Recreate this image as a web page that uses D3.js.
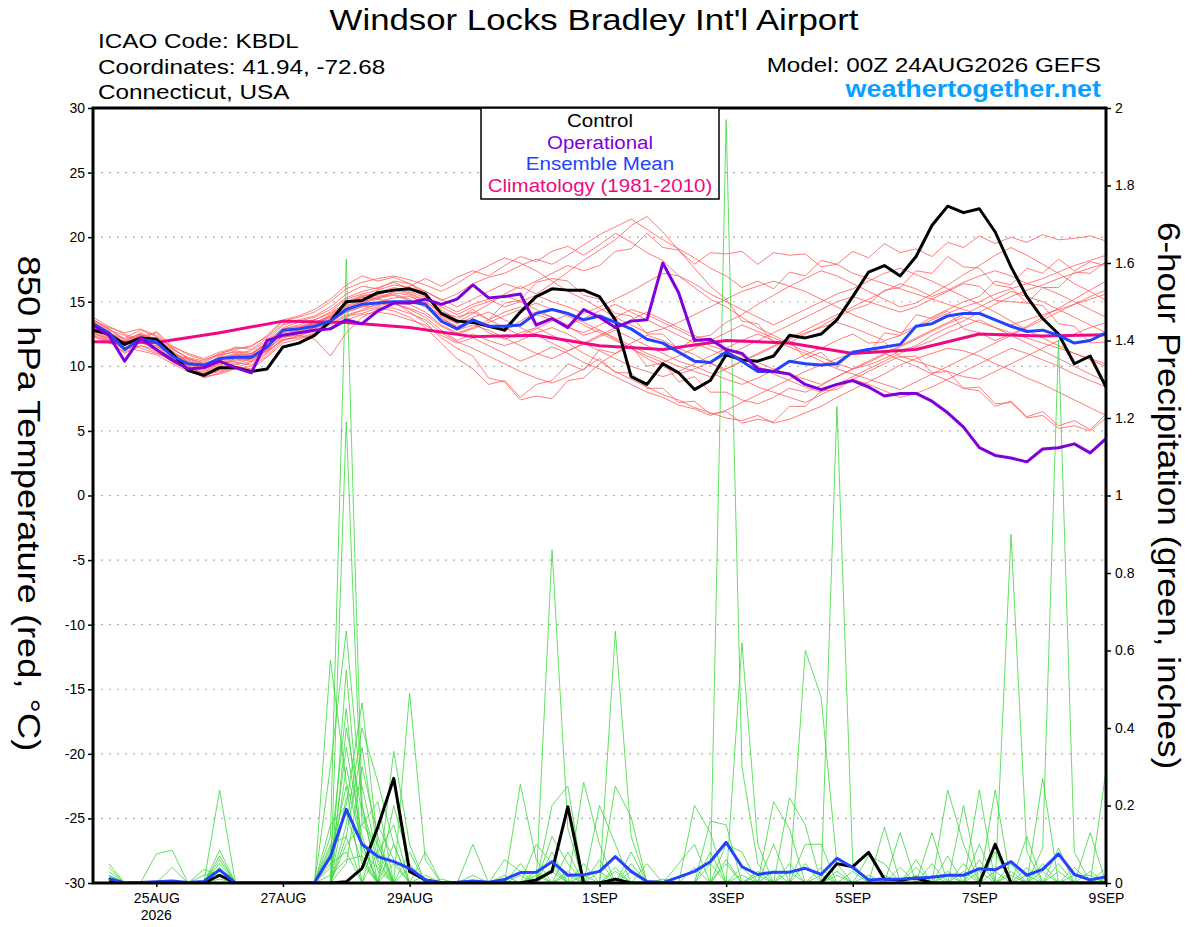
<!DOCTYPE html>
<html>
<head>
<meta charset="utf-8">
<script src="https://cdn.jsdelivr.net/npm/d3@7"></script>
<style>
  body { margin: 0; background: #fff; }
  svg text { font-family: "Liberation Sans", Arial, Helvetica, sans-serif; }
</style>
</head>
<body>
<svg id="chart" width="1200" height="927"></svg>
<script>
// ---- data (6-hourly from 00Z 24AUG2026) ----
const tickDates = ["2026-08-25", "2026-08-27", "2026-08-29", "2026-09-01", "2026-09-03", "2026-09-05", "2026-09-07", "2026-09-09"];
const tickLabels = ["25AUG", "27AUG", "29AUG", "1SEP", "3SEP", "5SEP", "7SEP", "9SEP"];

const tempControl = [12.8,12.5,11.7,12.2,12.1,11.0,9.7,9.3, 9.9,9.9,9.6,9.8,11.5,11.8,12.4,13.5,
  15.0,15.1,15.7,15.9,16.0,15.6,14.1,13.5, 13.4,13.1,12.8,14.2,15.4,16.0,15.9,15.9,
  15.4,13.6,9.2,8.6,10.2,9.5,8.2,8.9, 10.9,10.5,10.4,10.8,12.4,12.2,12.5,13.6,
  15.4,17.3,17.8,17.0,18.5,20.9,22.4,21.9, 22.2,20.4,17.7,15.4,13.7,12.5,10.2,10.8, 8.4];
const tempOperational = [13.2,12.4,10.4,12.2,11.3,10.5,9.8,9.9, 10.4,9.9,9.5,12.0,12.4,12.6,12.8,12.9,
  13.6,13.3,14.3,14.9,14.9,15.2,14.8,15.2, 16.3,15.3,15.4,15.6,13.2,13.7,13.0,14.4,
  13.8,13.0,13.5,13.6,18.0,15.7,12.0,12.1, 11.3,11.0,9.8,9.6,9.4,8.6,8.2,8.6,
  8.9,8.4,7.7,7.9,7.9,7.3,6.4,5.3, 3.7,3.1,2.9,2.6,3.6,3.7,4.0,3.3, 4.4];
const tempMean = [13.3,12.6,11.3,12.1,11.9,10.8,10.2,10.1, 10.6,10.7,10.7,11.5,12.8,12.9,13.1,13.5,
  14.4,14.8,14.9,15.0,15.0,14.8,13.5,12.9, 13.6,13.1,13.1,13.2,14.1,14.4,14.1,13.6,
  13.9,13.4,12.9,12.1,11.8,11.1,10.4,10.3, 11.1,10.4,9.6,9.6,10.4,10.2,10.1,10.2,
  11.1,11.3,11.5,11.7,13.1,13.3,13.9,14.1, 14.1,13.6,13.1,12.7,12.8,12.4,11.8,12.0, 12.6];
// daily climatology, 00Z 24AUG .. 00Z 9SEP
const tempClimatology = [11.9,11.85,12.6,13.5,13.4,13.0,12.3,12.4,11.6,11.3,12.0,11.8,11.0,11.3,12.5,12.35,12.45];

const tempMembers = [
  [13.6,12.9,12.1,12.5,11.8,11.0,10.4,10.0, 10.8,11.2,11.0,11.9,13.0,13.4,13.6,14.2, 15.2,15.6,15.9,16.3,16.1,15.8,15.1,15.6,
   16.4,16.9,17.2,17.8,18.3,17.9,18.6,19.4, 20.2,20.8,21.4,20.6,19.8,19.1,18.4,17.6, 17.0,16.1,16.6,16.0,17.3,17.0,18.2,17.9,
   18.9,18.4,19.5,18.8,19.1,18.5,19.6,19.2, 20.1,19.5,20.0,19.6,20.2,19.8,19.9,20.1,19.7],
  [13.2,12.6,11.8,12.3,12.6,11.4,10.6,10.2, 10.4,10.9,10.6,11.2,12.4,12.8,13.1,13.9, 14.8,15.4,15.2,15.8,16.2,16.8,16.2,16.9,
   17.4,17.0,17.8,18.5,18.1,18.9,19.3,18.6, 19.4,20.3,19.6,18.8,18.2,17.0,16.1,15.2, 14.6,13.8,13.0,12.4,11.8,12.5,13.1,13.8,
   14.4,14.8,15.9,16.1,17.4,17.2,18.5,17.7, 17.6,16.3,16.1,14.9,14.7,13.3,13.1,11.8,11.9],
  [12.4,12.0,11.5,11.2,10.9,10.2,9.6,9.2, 9.4,9.8,10.0,10.8,12.0,12.3,12.8,13.2, 13.9,14.1,14.5,14.3,13.8,13.0,11.8,10.6,
   9.8,8.6,8.9,7.6,8.6,8.9,10.2,9.7, 11.3,11.0,11.6,10.0,10.3,8.8,9.2,8.0, 8.0,7.4,7.1,7.6,8.3,8.0,8.5,9.2,
   9.8,10.1,10.6,11.2,11.6,12.4,13.0,13.5, 14.2,14.8,15.4,15.9,16.3,16.8,17.2,17.6,18.0],
  [13.0,12.3,11.2,11.9,11.4,10.6,10.1,9.8, 10.2,10.4,10.6,11.5,12.5,12.6,12.9,13.4, 14.2,14.6,15.0,15.3,15.4,14.9,13.8,13.0,
   13.4,12.6,12.1,12.6,13.0,12.4,11.8,11.0, 10.4,9.6,9.0,8.4,7.8,7.4,6.8,6.4, 6.0,5.8,6.2,5.6,5.9,6.4,6.9,7.6,
   8.2,8.8,9.4,10.1,10.6,11.0,11.4,11.2, 10.8,10.2,9.7,9.1,8.6,8.0,7.4,6.8,6.2],
  [13.8,13.1,12.5,12.0,12.7,11.6,10.9,10.5, 10.9,11.5,11.3,12.2,13.3,13.6,13.9,14.6, 15.6,16.2,16.0,16.6,16.4,15.6,14.4,13.6,
   14.4,13.6,14.9,15.1,16.5,16.8,16.6,15.5, 15.2,14.1,13.9,12.5,12.5,11.3,12.2,12.4, 13.4,14.0,14.8,15.5,16.2,16.8,17.4,17.0,
   16.4,15.8,15.2,14.6,14.9,15.6,16.3,17.1, 17.8,18.6,19.2,18.6,17.9,17.2,16.4,15.8,15.1],
  [12.8,12.2,11.6,12.2,11.7,10.8,10.0,9.5, 9.9,10.3,10.1,11.0,12.2,12.5,13.0,13.7, 14.6,15.0,15.3,15.6,15.2,14.6,13.7,13.1,
   13.6,13.2,12.7,13.5,14.2,13.8,13.1,12.4, 12.8,12.1,11.4,10.6,10.0,9.4,9.8,10.3, 9.6,9.0,8.4,8.0,7.6,7.2,7.8,8.4,
   9.0,8.6,8.1,7.6,7.9,8.4,9.0,9.6, 10.2,10.8,11.4,11.0,10.5,10.0,9.4,8.9,8.4],
  [13.1,12.7,11.9,12.6,12.0,11.2,10.3,10.0, 10.5,10.8,10.9,11.8,12.9,13.1,13.4,13.9, 14.9,15.3,15.5,16.0,15.7,15.1,14.0,13.4,
   14.1,14.8,15.6,16.2,15.6,16.4,17.3,18.2, 19.0,19.8,20.9,21.6,20.4,19.0,17.6,16.2, 15.2,13.5,13.3,11.8,12.0,10.6,11.1,9.9,
   11.2,11.0,12.6,12.4,14.0,13.7,14.3,12.9, 12.6,12.0,12.5,13.1,13.8,14.5,15.2,15.9,16.6],
  [12.6,12.0,11.0,11.6,11.1,10.4,9.7,9.3, 9.6,10.0,9.8,10.7,11.8,12.1,12.5,13.0, 13.6,14.0,14.2,14.0,13.6,13.2,12.4,11.8,
   12.2,11.6,11.0,10.4,10.9,11.5,11.0,10.3, 9.8,9.2,8.6,8.0,7.6,7.0,6.7,6.2, 6.6,7.2,7.8,8.4,9.0,9.6,10.1,10.6,
   11.0,11.4,11.0,10.5,10.0,9.4,8.9,8.3, 8.1,6.9,7.3,6.1,6.5,5.4,5.8,5.1,6.3],
  [13.4,12.8,12.4,11.8,11.5,10.9,10.6,10.2, 10.6,11.0,11.2,12.0,13.2,13.5,13.8,14.4, 15.3,15.8,16.1,16.5,16.0,15.4,14.8,14.2,
   14.8,15.2,14.6,15.0,15.5,15.0,14.6,14.1, 14.6,15.2,15.8,16.5,17.2,17.0,16.4,15.6, 15.0,14.4,13.8,13.2,13.8,14.4,15.0,15.6,
   16.0,16.6,17.2,17.6,17.1,16.6,16.0,15.4, 14.8,14.2,13.5,12.8,12.2,11.6,11.0,10.5,10.0],
  [12.3,11.8,11.4,12.0,11.2,10.3,9.8,9.1, 9.5,9.9,10.3,11.1,12.1,12.2,12.6,13.0, 13.8,14.4,14.8,15.0,14.2,13.4,12.2,11.4,
   10.8,9.1,8.8,7.4,7.7,7.5,8.9,9.1, 10.2,11.0,11.8,12.4,12.0,11.4,10.9,10.2, 9.8,10.4,10.9,11.5,12.1,12.6,13.0,13.4,
   13.0,12.5,12.0,12.4,13.0,13.6,14.1,14.6, 15.0,15.6,16.0,16.4,16.1,15.6,15.0,14.4,13.8],
  [13.0,12.5,12.2,12.8,12.3,11.4,10.6,10.3, 10.9,11.1,10.8,11.6,12.7,12.9,13.3,13.6, 14.4,14.9,15.2,15.0,14.8,14.2,13.2,12.6,
   13.0,13.6,14.2,14.6,14.0,13.6,13.0,12.6, 13.2,13.8,14.4,14.0,13.4,12.8,12.2,11.6, 11.2,10.6,10.0,9.4,8.9,8.4,8.0,8.6,
   9.2,9.8,10.4,11.0,11.5,12.0,12.6,13.1, 13.6,13.0,12.4,11.8,11.2,10.6,10.0,9.4,8.8],
  [13.5,12.9,12.0,12.4,12.2,11.3,10.7,10.4, 11.0,11.3,11.6,12.3,13.5,13.8,14.2,15.0, 16.0,16.5,16.8,17.0,16.7,16.3,15.8,16.4,
   17.2,17.8,18.4,18.0,17.4,16.6,15.8,15.2, 14.5,13.8,13.2,12.6,12.9,13.4,14.0,14.6, 15.2,15.8,16.2,16.6,16.2,15.8,15.2,14.6,
   14.0,13.5,13.0,12.6,13.1,13.8,14.4,15.0, 15.4,16.6,16.3,17.6,17.2,18.3,17.4,18.1,17.8],
  [12.7,12.1,11.3,11.9,11.6,10.6,9.9,9.7, 10.1,10.6,10.4,11.3,12.4,12.7,13.0,13.6, 14.2,14.6,14.7,14.9,14.4,13.8,12.8,12.0,
   12.5,12.0,11.6,12.0,12.6,13.0,12.5,11.8, 11.2,10.6,10.0,9.6,9.2,9.6,10.2,10.8, 11.4,12.0,12.5,12.0,11.5,11.0,10.4,9.8,
   9.4,9.0,8.6,8.2,8.8,9.4,10.0,10.6, 11.2,11.8,12.4,13.0,13.6,14.2,14.8,15.4,15.9],
  [12.9,12.4,11.7,12.4,11.9,11.0,10.4,9.9, 10.3,10.7,10.5,11.4,12.6,12.8,13.2,13.8, 14.7,15.1,15.4,15.7,15.5,14.8,13.9,13.3,
   13.8,14.2,13.6,13.0,12.4,11.8,11.2,11.7, 12.3,12.8,12.2,11.6,11.0,10.4,10.0,9.5, 9.0,8.6,9.1,9.7,10.3,10.9,11.4,12.0,
   12.5,11.8,11.9,10.7,10.8,9.5,9.6,8.3, 8.4,7.1,7.2,6.0,6.2,5.2,5.4,5.0,6.0],
  [13.2,12.5,11.4,12.1,11.8,10.9,10.3,9.6, 10.0,10.5,10.7,11.6,12.8,13.0,13.3,14.0, 15.0,15.5,15.6,15.9,15.6,15.0,14.2,13.8,
   14.2,13.6,13.0,12.4,12.9,13.5,14.0,13.4, 12.8,12.2,11.6,11.0,10.5,10.0,9.6,9.2, 9.8,10.4,11.0,11.6,12.2,12.8,13.4,14.0,
   14.6,15.2,15.8,16.4,16.0,15.4,15.9,16.5, 17.0,17.4,17.0,16.4,16.8,17.3,17.8,18.2,18.6],
  [12.5,12.2,11.9,11.4,11.0,10.5,10.0,9.4, 9.8,10.2,10.6,11.2,12.0,12.4,12.1,10.8, 12.6,13.8,14.4,14.8,14.5,14.0,13.1,12.5,
   12.9,13.4,13.9,14.4,14.9,14.4,13.9,13.2, 12.6,12.0,11.4,10.8,10.3,10.8,11.4,12.0, 12.6,13.2,12.7,12.2,11.7,11.2,10.7,10.2,
   9.8,10.3,10.9,11.5,12.1,12.7,13.3,13.8, 13.4,13.0,12.6,12.2,11.8,11.4,11.0,10.6,10.2],
  [13.6,13.0,12.6,12.9,12.4,11.5,11.0,10.6, 11.1,11.4,11.5,12.4,13.6,13.9,14.4,15.2, 16.3,17.0,16.6,16.9,16.4,15.8,15.2,14.6,
   15.2,15.8,16.4,16.0,16.6,17.2,17.8,17.4, 17.8,18.9,19.1,20.3,19.2,19.0,17.9,18.8, 18.7,18.9,17.9,18.8,18.6,18.7,17.7,17.9,
   17.2,16.8,16.4,16.0,15.6,15.2,14.8,14.4, 14.0,13.6,13.2,13.6,14.0,14.4,14.8,15.2,15.6],
  [12.4,11.9,11.1,11.6,11.3,10.7,9.9,9.4, 9.7,10.1,10.4,11.3,12.3,12.4,12.8,13.3, 14.0,14.3,14.6,14.5,14.1,13.6,12.6,11.9,
   11.4,10.8,10.2,9.6,9.1,8.7,9.2,9.8, 10.6,9.5,9.5,8.3,8.3,7.2,7.3,6.3, 6.5,5.6,5.9,5.7,6.9,6.9,8.1,8.2,
   9.0,9.6,10.2,10.8,10.4,10.0,9.6,9.2, 9.0,9.6,10.2,10.8,11.4,12.0,12.5,13.0,13.4],
  [13.3,12.7,11.6,12.2,12.1,11.1,10.5,10.1, 10.7,10.9,11.0,11.7,12.9,13.2,13.6,14.1, 14.9,15.4,15.7,16.1,15.8,15.3,14.6,14.0,
   14.6,15.0,15.5,15.0,14.4,13.8,13.2,13.7, 14.3,14.8,14.2,13.6,13.0,12.4,11.8,11.3, 10.8,11.4,12.0,12.6,13.2,13.8,14.4,15.0,
   15.4,15.0,14.6,14.2,14.6,15.2,15.8,16.4, 16.2,15.1,15.0,14.9,16.1,16.1,17.3,17.2,18.1],
  [12.9,12.3,11.8,12.5,11.7,10.8,10.2,9.8, 10.2,10.6,10.9,11.8,12.8,13.0,13.4,13.8, 14.5,15.0,15.3,15.5,15.1,14.6,13.5,12.8,
   13.2,12.8,12.2,11.6,11.0,10.6,11.2,11.8, 12.4,13.0,13.6,14.2,13.6,13.0,12.4,11.9, 11.4,10.8,10.3,9.8,9.4,9.0,8.6,9.2,
   9.8,10.4,11.0,11.6,12.2,12.8,13.4,14.0, 14.6,15.2,15.8,15.4,15.0,14.4,13.8,13.2,12.6]
];

// 6-hour precipitation, periods ending 06Z 24AUG .. 00Z 9SEP
const precipControl = [0.003,0,0,0,0,0,0,0.02, 0,0,0,0,0,0,0,0.003, 0.038,0.145,0.27,0.03,0.008,0,0,0,
  0,0,0,0.008,0.03,0.197,0,0, 0.01,0,0,0,0,0,0,0, 0,0,0,0,0,0,0.05,0.042,
  0.079,0.01,0.008,0.013,0,0,0,0, 0.10,0,0,0,0,0,0,0];
const precipMean = [0.012,0,0.001,0.003,0.005,0.001,0.004,0.034, 0,0,0,0,0,0.002,0.068,0.19, 0.10,0.068,0.055,0.038,0.008,0.001,0.002,0.005,
  0.002,0.009,0.027,0.028,0.055,0.02,0.021,0.03, 0.068,0.03,0.004,0.001,0.015,0.03,0.055,0.105, 0.042,0.022,0.028,0.028,0.038,0.022,0.064,0.04,
  0.008,0.01,0.01,0.012,0.015,0.02,0.02,0.037, 0.034,0.055,0.02,0.035,0.075,0.022,0.008,0.016];

const precipMembers = [
  [0.05,0,0,0,0,0,0,0, 0,0,0,0,0,0,0.12,1.61, 0.2,0.05,0,0,0,0,0,0, 0,0,0,0,0.12,0.05,0,0,
   0,0,0,0,0,0,0,1.97, 0.3,0.05,0,0,0,0,0,0, 0,0,0,0,0,0,0,0, 0,0.05,0,0,0.09,0,0,0],
  [0.03,0,0,0,0,0,0,0, 0,0,0,0,0,0,0,1.19, 0.15,0.1,0,0,0,0,0,0, 0,0,0.05,0,0,0,0,0,
   0.65,0.12,0,0,0,0,0,0, 0,0,0,0,0.6,0.48,0.05,0, 0,0,0,0,0,0,0,0, 0,0,0,0.09,1.4,0.08,0,0],
  [0,0,0,0.075,0.085,0,0,0.06, 0,0,0,0,0,0,0.575,0.26, 0.1,0,0,0,0,0,0,0, 0,0,0,0,0.86,0.14,0,0,
   0,0,0,0,0,0,0,0, 0,0,0,0,0,0,1.23,0.05, 0,0,0,0,0,0,0,0.1, 0,0,0,0,0,0,0,0.29],
  [0,0,0,0,0,0,0,0.24, 0,0,0,0,0,0,0.15,0.2, 0.465,0.1,0,0,0,0,0,0, 0,0,0,0,0,0,0.26,0.1,
   0,0,0,0,0,0,0,0, 0.62,0.1,0,0,0,0,0,0, 0,0,0,0,0,0,0,0, 0,0.9,0.08,0,0,0,0,0],
  [0,0,0,0,0.04,0,0,0.085, 0,0,0,0,0,0,0,0.15, 0.4,0.26,0.1,0,0,0,0,0, 0,0,0.255,0.06,0,0,0,0,
   0,0,0,0,0,0.2,0.13,0, 0,0,0,0,0,0,0,0, 0,0,0,0,0,0.24,0.1,0, 0,0,0,0,0,0,0,0],
  [0.02,0,0,0,0,0,0,0.07, 0,0,0,0,0,0,0.1,0.12, 0,0,0.34,0.1,0,0,0,0, 0,0,0,0,0,0,0,0.2,
   0.1,0,0,0,0,0,0,0, 0,0,0.21,0.14,0,0,0,0, 0,0,0,0,0,0,0,0, 0.24,0,0,0.27,0,0,0,0],
  [0.01,0,0,0,0,0,0,0.05, 0,0,0,0,0,0,0,0.1, 0.15,0.21,0,0.49,0.06,0,0,0, 0,0,0,0,0,0,0,0,
   0.25,0.17,0,0,0,0,0,0, 0,0,0,0.22,0.15,0,0,0, 0,0,0,0,0,0,0,0.24, 0,0,0,0,0,0,0,0],
  [0,0,0,0,0,0,0,0.04, 0,0,0,0,0,0,0.05,0.08, 0,0.08,0.15,0,0.08,0,0,0.1, 0,0,0,0,0.2,0.25,0,0,
   0,0,0,0,0,0,0.16,0.15, 0,0,0,0,0,0,0,0, 0,0.145,0,0,0,0,0.2,0, 0,0,0,0,0,0,0,0],
  [0,0,0,0,0,0,0.02,0.03, 0,0,0,0,0,0,0,0.3, 0.1,0,0.1,0,0,0,0,0, 0,0,0,0.1,0.05,0,0,0,
   0,0,0,0,0.05,0.1,0,0, 0,0,0,0,0.1,0.1,0,0, 0,0,0.13,0,0.13,0,0,0, 0,0,0,0,0,0,0,0],
  [0,0,0,0,0,0,0.035,0.02, 0,0,0,0,0,0,0.08,0.45, 0.06,0,0,0.08,0,0,0,0, 0,0.06,0.03,0,0,0,0,0.06,
   0,0,0.05,0,0,0,0,0.1, 0.08,0,0,0,0,0,0,0, 0,0,0,0.06,0,0.07,0,0, 0,0,0,0,0,0,0.13,0],
  [0.04,0,0,0,0,0,0,0, 0,0,0,0,0,0,0,0.05, 0.3,0.12,0,0,0,0,0,0.02, 0,0,0,0,0,0,0.05,0,
   0,0.05,0,0,0,0,0.08,0, 0,0.02,0,0,0,0,0,0, 0.07,0.05,0,0,0,0,0,0, 0.08,0,0.12,0,0,0,0,0.04],
  [0,0,0,0,0,0,0,0, 0,0,0,0,0,0,0.3,0.65, 0.2,0,0,0,0,0,0,0, 0,0.02,0,0,0,0.08,0,0,
   0,0,0,0,0,0,0,0, 0,0,0.1,0,0,0,0.03,0, 0,0,0,0,0.05,0,0,0, 0,0.03,0,0,0,0.02,0.02,0],
  [0.02,0,0,0,0,0,0,0, 0,0,0,0,0,0,0,0.55, 0.08,0.04,0,0,0,0.01,0,0, 0,0,0,0,0.08,0,0,0,
   0.04,0,0,0,0,0,0,0.06, 0,0,0,0,0,0,0,0.03, 0,0,0,0.04,0,0,0,0.06, 0,0,0,0.05,0,0,0,0],
  [0,0,0,0,0,0,0,0.01, 0,0,0,0,0,0,0.04,0.35, 0.12,0,0.05,0,0,0,0,0, 0,0,0,0.02,0,0,0,0,
   0,0.08,0,0,0,0,0,0, 0.04,0,0,0,0,0.04,0,0, 0,0,0.04,0,0,0,0.05,0, 0,0,0,0,0.05,0,0,0],
  [0,0,0,0,0,0,0,0, 0,0,0,0,0,0,0,0.22, 0.25,0.06,0,0.04,0,0,0,0, 0,0,0,0,0.04,0,0,0.03,
   0,0,0,0,0,0,0.05,0, 0,0,0,0.05,0,0,0,0, 0.02,0,0,0,0,0.03,0,0, 0,0,0.04,0,0,0,0,0.02],
  [0.01,0,0,0,0,0,0,0, 0,0,0,0,0,0,0.09,0.18, 0.05,0,0,0,0,0,0,0, 0,0,0,0,0,0.03,0,0,
   0.03,0,0,0,0,0.04,0,0, 0,0,0,0,0.05,0,0,0, 0,0.02,0,0,0,0,0,0, 0.03,0,0,0,0,0.04,0,0],
  [0,0,0,0,0,0,0,0, 0,0,0,0,0,0,0,0.4, 0.18,0.03,0,0,0,0,0,0, 0,0,0.02,0,0,0,0.02,0,
   0,0,0,0,0,0,0,0.05, 0,0,0.03,0,0,0,0,0, 0,0,0,0,0.02,0,0,0.03, 0,0,0,0.03,0,0,0,0],
  [0,0,0,0,0,0,0,0, 0,0,0,0,0,0,0.07,0.25, 0,0.15,0.06,0,0,0,0,0, 0,0,0,0,0.03,0,0,0,
   0,0.03,0,0,0,0,0,0, 0,0.03,0,0,0,0,0.02,0, 0,0,0,0,0,0,0.03,0, 0,0,0,0,0.03,0,0,0],
  [0,0,0,0,0,0,0,0, 0,0,0,0,0,0,0,0.12, 0.35,0.08,0,0,0.02,0,0,0, 0,0,0,0.03,0,0,0,0,
   0,0,0,0.01,0,0,0,0, 0,0,0,0.03,0,0,0,0, 0,0,0,0.02,0,0,0,0, 0,0.02,0,0,0,0,0.03,0],
  [0.01,0,0,0,0,0,0,0, 0,0,0,0,0,0,0.02,0.06, 0.07,0,0.2,0.05,0,0,0,0, 0,0,0,0,0,0.02,0,0,
   0,0,0,0,0,0,0,0, 0.02,0,0,0,0,0.02,0,0, 0,0,0,0,0,0.02,0,0, 0,0,0.02,0,0,0,0,0.01]
];

// ---- layout ----
const W = 1200, H = 927;
const plotLeft = 93, plotRight = 1106, plotTop = 108, plotBottom = 883;
const SIX_H = 6 * 3600 * 1000;
const start = Date.UTC(2026, 7, 24, 0);
const tempTime = i => new Date(start + i * SIX_H);
const precipTime = i => new Date(start + (i + 1) * SIX_H);
const climTime = i => new Date(start + i * 4 * SIX_H);

// the original font runs wider than Liberation Sans; stretch text to match
const widen = (sel, f = 1.15) => sel.each(function () {
  this.setAttribute("textLength", this.getComputedTextLength() * f);
  this.setAttribute("lengthAdjust", "spacingAndGlyphs");
});

const svg = d3.select("#chart");
svg.append("rect").attr("width", W).attr("height", H).attr("fill", "#fff");

const x = d3.scaleUtc()
  .domain([new Date(start), new Date(Date.UTC(2026, 8, 9, 0))])
  .range([plotLeft, plotRight]);
const yT = d3.scaleLinear().domain([-30, 30]).range([plotBottom, plotTop]);
const yP = d3.scaleLinear().domain([0, 2]).range([plotBottom, plotTop]);

svg.append("clipPath").attr("id", "plotclip")
  .append("rect").attr("x", plotLeft).attr("y", plotTop)
  .attr("width", plotRight - plotLeft).attr("height", plotBottom - plotTop);

// gridlines
svg.append("g")
  .selectAll("line")
  .data(d3.range(-25, 30, 5))
  .join("line")
  .attr("x1", plotLeft).attr("x2", plotRight)
  .attr("y1", d => yT(d)).attr("y2", d => yT(d))
  .attr("stroke", "#b0b0b0")
  .attr("stroke-width", 1.2)
  .attr("stroke-dasharray", "2,6");

const plot = svg.append("g").attr("clip-path", "url(#plotclip)");

const tempLine = d3.line().x((d, i) => x(tempTime(i))).y(d => yT(d));
const precipLine = d3.line().x((d, i) => x(precipTime(i))).y(d => yP(d));
const climLine = d3.line().x((d, i) => x(climTime(i))).y(d => yT(d));

// ensemble members
plot.append("g").selectAll("path")
  .data(tempMembers)
  .join("path")
  .attr("d", tempLine)
  .attr("fill", "none")
  .attr("stroke", "#ff5a5a")
  .attr("stroke-width", 0.8);

plot.append("g").selectAll("path")
  .data(precipMembers)
  .join("path")
  .attr("d", precipLine)
  .attr("fill", "none")
  .attr("stroke", "#3ad83a")
  .attr("stroke-width", 0.8);

// bold lines
const bold = (g, d, gen, color) => g.append("path")
  .datum(d)
  .attr("d", gen)
  .attr("fill", "none")
  .attr("stroke", color)
  .attr("stroke-width", 3)
  .attr("stroke-linejoin", "round");

bold(plot, precipControl, precipLine, "#000");
bold(plot, precipMean, precipLine, "#2244ff");
bold(plot, tempClimatology, climLine, "#ee0a84");
bold(plot, tempControl, tempLine, "#000");
bold(plot, tempMean, tempLine, "#2244ff");
bold(plot, tempOperational, tempLine, "#8000dc");

// axes
const leftAxis = svg.append("g")
  .attr("transform", `translate(${plotLeft},0)`)
  .call(d3.axisLeft(yT).tickValues(d3.range(-30, 31, 5)).tickSize(5).tickPadding(3).tickFormat(d => String(d)));
const rightAxis = svg.append("g")
  .attr("transform", `translate(${plotRight},0)`)
  .call(d3.axisRight(yP).tickValues(d3.range(0, 11).map(d => d / 5)).tickSize(5).tickPadding(4)
    .tickFormat(d => String(+d.toFixed(1))));
const dates = tickDates.map(s => new Date(s + "T00:00:00Z"));
const bottomAxis = svg.append("g")
  .attr("transform", `translate(0,${plotBottom})`)
  .call(d3.axisBottom(x).tickValues(dates).tickSize(4).tickPadding(6)
    .tickFormat((d, i) => tickLabels[i]));

[leftAxis, rightAxis, bottomAxis].forEach(a => {
  a.select(".domain").remove();
  a.selectAll("text").attr("font-size", 14).attr("fill", "#000")
    .attr("font-family", "'Liberation Sans', Arial, sans-serif");
  a.selectAll("line").attr("stroke", "#000").attr("stroke-width", 1.5);
});
bottomAxis.append("text")
  .attr("x", x(dates[0])).attr("y", 37)
  .attr("text-anchor", "middle").attr("font-size", 14).attr("fill", "#000")
  .attr("font-family", "'Liberation Sans', Arial, sans-serif")
  .text("2026");

// frame
svg.append("rect")
  .attr("x", plotLeft).attr("y", plotTop)
  .attr("width", plotRight - plotLeft).attr("height", plotBottom - plotTop)
  .attr("fill", "none").attr("stroke", "#000").attr("stroke-width", 3);

// legend
const legend = svg.append("g");
legend.append("rect")
  .attr("x", 481).attr("y", plotTop).attr("width", 238).attr("height", 91)
  .attr("fill", "#fff").attr("stroke", "#000").attr("stroke-width", 1.5);
const legendItems = [
  ["Control", "#000"],
  ["Operational", "#8000dc"],
  ["Ensemble Mean", "#2244ff"],
  ["Climatology (1981-2010)", "#ee0a84"]
];
legend.selectAll("text.item")
  .data(legendItems)
  .join("text")
  .attr("class", "item")
  .attr("x", 600)
  .attr("y", (d, i) => 127 + i * 21.5)
  .attr("text-anchor", "middle")
  .attr("font-size", 18)
  .attr("fill", d => d[1])
  .text(d => d[0])
  .call(widen, 1.14);

// titles
svg.append("text").attr("x", 594).attr("y", 30).attr("text-anchor", "middle")
  .attr("font-size", 30).text("Windsor Locks Bradley Int'l Airport")
  .call(widen, 1.16);
const info = ["ICAO Code: KBDL", "Coordinates: 41.94, -72.68", "Connecticut, USA"];
svg.selectAll("text.info").data(info).join("text")
  .attr("class", "info").attr("x", 98).attr("y", (d, i) => 48 + i * 25.5)
  .attr("font-size", 21).text(d => d)
  .call(widen, 1.155);
svg.append("text").attr("x", 1101).attr("y", 72).attr("text-anchor", "end")
  .attr("font-size", 21).text("Model: 00Z 24AUG2026 GEFS")
  .call(widen, 1.155);
svg.append("text").attr("x", 1101).attr("y", 97).attr("text-anchor", "end")
  .attr("font-size", 24).attr("font-weight", "bold").attr("fill", "#0aa0ff")
  .text("weathertogether.net")
  .call(widen, 1.12);

// axis titles (both read top to bottom)
svg.append("text")
  .attr("transform", `translate(18,${(plotTop + plotBottom) / 2 + 8}) rotate(90)`)
  .attr("text-anchor", "middle").attr("font-size", 31)
  .text("850 hPa Temperature (red, \u00B0C)")
  .call(widen, 1.17);

svg.append("text")
  .attr("transform", `translate(1158,${(plotTop + plotBottom) / 2}) rotate(90)`)
  .attr("text-anchor", "middle").attr("font-size", 31)
  .text("6-hour Precipitation (green, inches)")
  .call(widen, 1.13);
</script>
</body>
</html>
